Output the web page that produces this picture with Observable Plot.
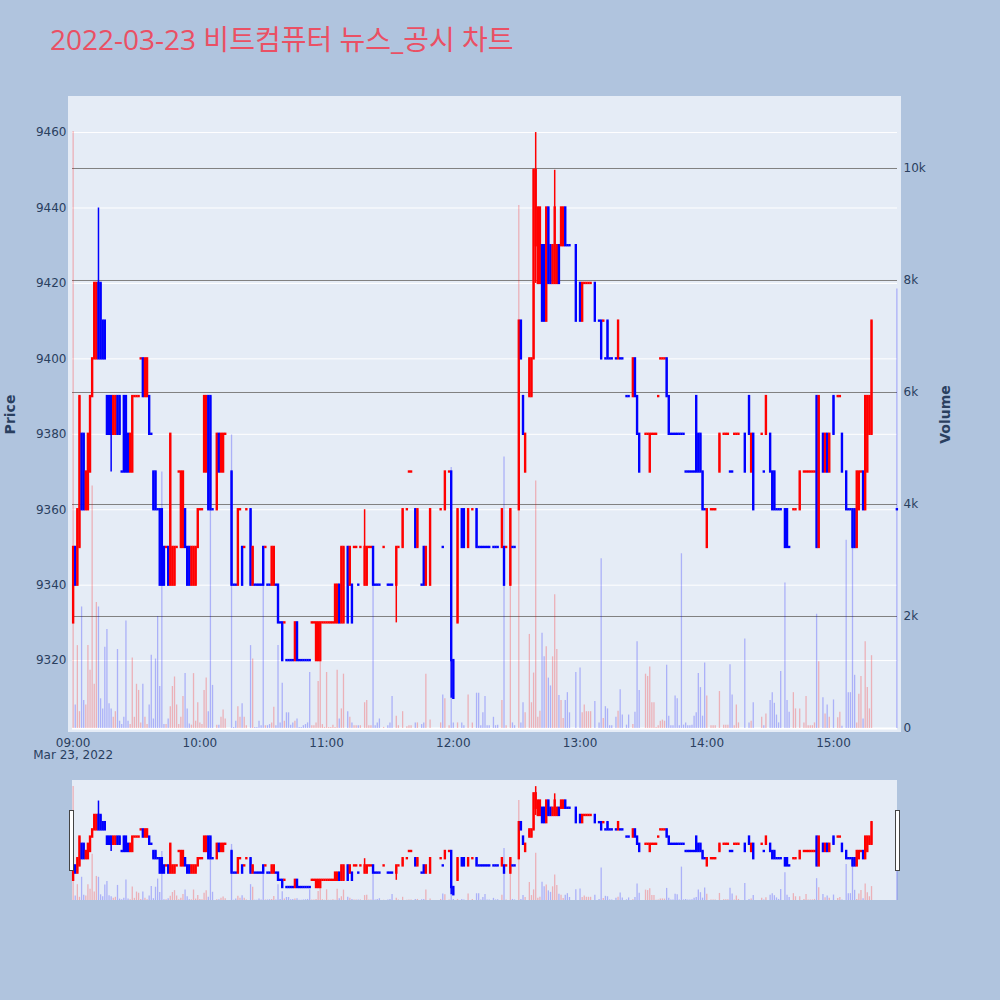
<!DOCTYPE html>
<html><head><meta charset="utf-8">
<script src="https://cdn.jsdelivr.net/npm/d3@7"></script>
<script src="https://cdn.jsdelivr.net/npm/@observablehq/plot@0.6"></script>
<style>
html,body{margin:0;padding:0;background:#B0C4DE;}
#wrap{position:relative;width:1000px;height:1000px;overflow:hidden;background:#B0C4DE;}
#wrap svg{position:absolute;left:0;top:0;pointer-events:none;}
.bg{position:absolute;background:#E5ECF6;}
.handle{position:absolute;background:#fff;border:1px solid #444;box-sizing:border-box;}
#title{position:absolute;left:50px;top:22px;font-family:"Open Sans","Noto Sans CJK KR",sans-serif;font-size:28px;line-height:34px;color:#EA5064;white-space:nowrap;}
</style></head>
<body><div id="wrap">
<div class="bg" style="left:68px;top:96px;width:833px;height:636px"></div>
<div class="bg" style="left:72px;top:780px;width:825px;height:120px"></div>
<div id="title">2022-03-23 비트컴퓨터 뉴스_공시 차트</div>
</div>
<script>
// ---- data: minute offset from 09:00, OHLC (KRW), volume (shares) ----
const minute = [
0,1,2,3,4,5,6,7,8,9,
10,11,12,13,14,15,16,17,18,19,
20,21,22,23,24,25,26,27,28,29,
30,31,32,33,34,35,36,37,38,39,
40,41,42,43,44,45,46,47,48,49,
50,51,52,53,54,55,56,57,58,59,
60,61,62,63,64,65,66,68,69,70,71,72,
75,76,77,78,79,80,81,82,84,85,86,87,88,89,
90,91,92,93,94,95,96,97,98,99,
100,101,102,103,104,105,106,107,108,109,
110,111,112,113,114,115,116,117,118,119,
120,121,122,123,124,125,126,127,128,130,131,132,133,134,135,136,138,139,
140,141,142,143,144,145,147,149,150,151,153,154,156,158,159,160,162,163,165,166,167,169,
174,175,176,178,179,180,182,184,185,187,189,191,192,193,194,195,196,197,199,200,201,203,204,205,207,208,209,
211,212,213,214,216,217,218,219,220,221,222,223,224,225,226,227,228,229,230,231,232,233,234,235,238,
240,241,242,243,244,245,247,249,250,251,252,253,254,255,257,258,259,260,262,263,265,266,267,268,
271,272,273,274,275,276,277,278,279,280,281,282,283,284,285,286,287,288,289,
290,291,292,293,294,295,296,297,298,299,300,302,303,304,306,308,309,310,311,312,313,314,315,318,
320,321,322,326,327,328,330,331,332,333,334,335,337,338,339,341,342,344,346,347,348,349,350,351,352,353,355,356,357,358,
360,362,363,364,366,367,368,369,370,371,372,373,374,375,376,377,378,390];

const open = [
9330,9350,9340,9350,9380,9380,9360,9360,9370,9390,
9400,9400,9420,9420,9410,9410,9390,9390,9390,9380,
9380,9390,9390,9370,9390,9390,9380,9370,9370,9390,
9390,9390,9400,9400,9390,9390,9390,9380,9370,9370,
9360,9360,9360,9350,9350,9350,9340,9340,9340,9350,
9370,9350,9350,9360,9350,9350,9340,9340,9340,9350,
9360,9360,9370,9370,9390,9390,9360,9360,9380,9370,9370,9380,
9370,9340,9340,9340,9360,9350,9350,9360,9360,9340,9340,9340,9340,9340,
9350,9350,9340,9340,9340,9340,9340,9340,9330,9330,
9330,9320,9320,9320,9320,9320,9330,9320,9320,9320,
9320,9320,9320,9330,9330,9320,9320,9320,9330,9330,
9330,9330,9330,9330,9330,9330,9340,9330,9330,9350,9340,9340,9350,9350,9340,9350,9340,9340,
9350,9350,9350,9340,9340,9340,9350,9340,9340,9340,9340,9350,9350,9360,9370,9370,9360,9350,9340,9350,9340,9340,
9360,9350,9360,9370,9370,9320,9330,9360,9360,9350,9360,9360,9350,9350,9350,9350,9350,9350,9350,9350,9350,9350,9350,9350,9340,9350,9350,
9360,9410,9390,9370,9390,9390,9400,9430,9420,9420,9430,9430,9410,9440,9430,9420,9420,9420,9430,9430,9430,9440,9430,9430,9430,
9420,9410,9420,9420,9420,9420,9420,9410,9410,9410,9400,9410,9400,9400,9400,9400,9400,9400,9390,9390,9390,9400,9390,9380,
9380,9380,9370,9380,9380,9380,9390,9400,9400,9400,9400,9390,9380,9380,9380,9380,9380,9380,9380,
9370,9370,9370,9370,9370,9390,9380,9380,9370,9360,9350,9360,9360,9360,9370,9380,9380,9380,9370,9370,9380,9380,9380,9380,
9390,9370,9380,9380,9370,9380,9380,9370,9370,9360,9360,9360,9360,9360,9350,9360,9360,9360,9370,9370,9370,9370,9370,9370,9390,9350,9380,9370,9380,9370,
9390,9390,9390,9380,9370,9360,9360,9360,9360,9350,9360,9370,9370,9360,9370,9380,9380,9360];

const high = [
9350,9350,9360,9390,9380,9380,9370,9380,9390,9400,
9420,9420,9440,9420,9410,9410,9390,9390,9390,9390,
9390,9390,9390,9370,9390,9390,9380,9380,9390,9390,
9390,9390,9400,9400,9400,9400,9390,9380,9370,9370,
9360,9360,9360,9350,9350,9350,9380,9350,9350,9350,
9370,9370,9370,9360,9350,9350,9350,9350,9350,9360,
9360,9360,9390,9390,9390,9390,9360,9380,9380,9380,9380,9380,
9370,9340,9340,9360,9360,9350,9350,9360,9360,9350,9340,9340,9340,9340,
9350,9350,9340,9340,9350,9350,9340,9340,9330,9330,
9330,9320,9320,9320,9320,9330,9330,9320,9320,9320,
9320,9320,9320,9330,9330,9330,9330,9330,9330,9330,
9330,9330,9330,9330,9340,9340,9340,9350,9350,9350,9350,9340,9350,9350,9340,9350,9360,9350,
9350,9350,9350,9340,9340,9340,9350,9340,9340,9340,9350,9350,9360,9360,9370,9370,9360,9360,9340,9350,9350,9360,
9360,9350,9370,9370,9370,9320,9360,9360,9360,9360,9360,9360,9350,9350,9350,9350,9350,9350,9350,9350,9350,9360,9350,9350,9360,9350,9350,
9410,9410,9390,9380,9400,9400,9450,9460,9440,9440,9430,9430,9440,9440,9430,9430,9450,9430,9430,9440,9440,9440,9430,9430,9430,
9420,9420,9420,9420,9420,9420,9420,9410,9410,9410,9400,9410,9400,9400,9400,9410,9400,9400,9390,9390,9400,9400,9390,9380,
9380,9380,9380,9380,9380,9380,9390,9400,9400,9400,9400,9390,9380,9380,9380,9380,9380,9380,9380,
9370,9370,9370,9370,9370,9390,9380,9380,9370,9360,9360,9360,9360,9360,9380,9380,9380,9380,9370,9370,9380,9380,9380,9380,
9390,9380,9380,9380,9370,9390,9380,9370,9370,9360,9360,9360,9360,9360,9350,9360,9360,9370,9370,9370,9370,9370,9370,9370,9390,9390,9380,9380,9380,9380,
9390,9390,9390,9380,9370,9360,9360,9360,9360,9370,9370,9370,9370,9390,9390,9390,9410,9360];

const low = [
9330,9340,9340,9350,9360,9360,9360,9360,9370,9390,
9400,9400,9400,9400,9400,9400,9380,9380,9370,9380,
9380,9380,9380,9370,9370,9370,9370,9370,9370,9390,
9390,9390,9400,9390,9390,9390,9380,9380,9360,9360,
9360,9340,9340,9340,9350,9340,9340,9340,9340,9350,
9370,9350,9350,9350,9340,9340,9340,9340,9340,9350,
9360,9360,9370,9370,9360,9360,9360,9360,9370,9370,9370,9380,
9340,9340,9340,9340,9360,9340,9350,9360,9340,9340,9340,9340,9340,9340,
9340,9350,9340,9340,9340,9340,9340,9330,9330,9320,
9330,9320,9320,9320,9320,9320,9320,9320,9320,9320,
9320,9320,9320,9330,9330,9320,9320,9320,9330,9330,
9330,9330,9330,9330,9330,9330,9330,9330,9330,9330,9340,9330,9350,9350,9340,9350,9340,9340,
9350,9350,9340,9340,9340,9340,9350,9340,9340,9340,9330,9350,9350,9360,9370,9370,9350,9350,9340,9340,9340,9340,
9360,9350,9360,9370,9310,9310,9330,9350,9350,9350,9360,9350,9350,9350,9350,9350,9350,9350,9350,9350,9350,9350,9340,9350,9340,9350,9350,
9360,9400,9380,9370,9390,9390,9400,9420,9420,9420,9410,9410,9410,9420,9420,9420,9420,9420,9420,9430,9430,9430,9430,9430,9410,
9410,9410,9420,9420,9420,9420,9410,9410,9400,9410,9400,9400,9400,9400,9400,9400,9400,9400,9390,9390,9390,9390,9380,9370,
9380,9380,9370,9380,9380,9380,9390,9400,9400,9400,9390,9380,9380,9380,9380,9380,9380,9380,9380,
9370,9370,9370,9370,9370,9370,9370,9370,9360,9360,9350,9360,9360,9360,9370,9380,9380,9380,9370,9370,9380,9380,9380,9370,
9380,9370,9360,9380,9370,9380,9370,9360,9360,9360,9360,9360,9350,9350,9350,9360,9360,9360,9370,9370,9370,9370,9370,9370,9350,9350,9370,9370,9370,9370,
9380,9390,9390,9370,9360,9360,9360,9350,9350,9350,9360,9370,9360,9360,9370,9380,9380,9360];

const close = [
9350,9340,9360,9390,9360,9360,9370,9380,9390,9400,
9420,9420,9400,9400,9400,9400,9380,9380,9380,9390,
9390,9380,9380,9370,9370,9370,9370,9380,9390,9390,
9390,9390,9400,9390,9400,9400,9380,9380,9360,9360,
9360,9340,9340,9340,9350,9340,9380,9350,9350,9350,
9370,9370,9370,9350,9340,9340,9350,9350,9350,9360,
9360,9360,9390,9390,9360,9360,9360,9380,9370,9380,9380,9380,
9340,9340,9340,9360,9360,9340,9350,9360,9340,9350,9340,9340,9340,9340,
9340,9350,9340,9340,9350,9350,9340,9330,9330,9320,
9330,9320,9320,9320,9320,9330,9320,9320,9320,9320,
9320,9320,9320,9330,9330,9330,9330,9330,9330,9330,
9330,9330,9330,9330,9340,9340,9330,9350,9350,9330,9350,9330,9350,9350,9340,9350,9350,9350,
9350,9350,9340,9340,9340,9340,9350,9340,9340,9340,9350,9350,9360,9360,9370,9370,9350,9360,9340,9340,9350,9360,
9360,9350,9370,9370,9320,9310,9360,9350,9350,9360,9360,9350,9350,9350,9350,9350,9350,9350,9350,9350,9350,9360,9340,9350,9360,9350,9350,
9410,9400,9380,9380,9400,9400,9450,9450,9440,9440,9410,9410,9440,9420,9420,9430,9440,9430,9420,9440,9440,9430,9430,9430,9410,
9410,9420,9420,9420,9420,9420,9410,9410,9400,9410,9400,9400,9400,9400,9400,9410,9400,9400,9390,9390,9400,9390,9380,9370,
9380,9380,9380,9380,9380,9380,9390,9400,9400,9400,9390,9380,9380,9380,9380,9380,9380,9380,9380,
9370,9370,9370,9370,9370,9370,9370,9370,9360,9360,9360,9360,9360,9360,9380,9380,9380,9380,9370,9370,9380,9380,9380,9370,
9380,9380,9360,9380,9370,9390,9370,9360,9360,9360,9360,9360,9350,9350,9350,9360,9360,9370,9370,9370,9370,9370,9370,9370,9350,9390,9370,9380,9370,9380,
9380,9390,9390,9370,9360,9360,9360,9350,9350,9370,9370,9370,9360,9390,9390,9390,9410,9360];

const volume = [
10660,420,1480,300,2170,500,420,1480,1040,4330,
790,2250,2170,530,350,1450,1770,440,350,200,
300,1410,130,70,200,1920,130,70,1260,200,
790,680,100,790,200,70,420,1310,170,1240,
2000,750,4580,70,70,170,390,750,920,420,
70,200,570,980,350,80,60,980,130,460,
100,70,680,900,300,5900,770,60,60,200,330,170,
5240,20,130,390,200,440,200,50,1480,1240,20,20,130,50,
2600,50,50,70,100,380,50,1480,100,810,
130,280,280,60,100,130,170,20,20,50,
70,100,1000,50,50,100,840,1700,70,20,
1000,20,20,60,20,1040,170,350,970,300,200,100,50,50,50,50,460,500,
50,50,2580,50,100,170,20,50,100,570,220,50,300,30,50,50,100,100,70,100,970,150,
100,600,530,50,4660,100,100,100,50,600,100,630,630,50,280,570,50,50,200,50,60,500,4850,50,3900,100,50,
9340,100,460,280,1680,460,990,4420,200,310,1700,1280,1460,900,760,1280,2390,1410,590,500,180,500,640,280,1000,
1080,280,420,300,300,300,480,100,3030,180,390,350,50,50,200,310,690,240,60,240,70,290,1550,680,
970,930,1100,460,460,20,50,130,150,130,1130,220,50,50,580,530,50,3120,60,
100,50,50,60,220,280,980,730,220,1170,580,50,50,50,660,60,60,60,1140,600,50,420,100,1600,
100,130,460,200,50,260,500,640,450,240,100,1020,2600,500,290,640,350,350,100,570,50,50,50,100,2040,1190,550,260,420,200,
510,190,290,40,3360,640,640,3270,950,100,610,930,170,1550,730,350,1300,7850];

const priceTicks = [9320, 9340, 9360, 9380, 9400, 9420, 9440, 9460];
const volumeTicks = [0, 2000, 4000, 6000, 8000, 10000];
const volumeTickLabels = ["0", "2k", "4k", "6k", "8k", "10k"];
const hourTicks = [9, 10, 11, 12, 13, 14, 15];
const dateLabel = "Mar 23, 2022";

// ---- build table ----
const T0 = Date.UTC(2022, 2, 23, 9, 0);
const toDate = m => new Date(T0 + m * 60000);
const rows = minute.map((m, i) => ({t: toDate(m), o: open[i], h: high[i], l: low[i], c: close[i], v: volume[i]}));
// direction as Plotly computes it (flat candles compare to previous close)
let inc = true, prevC = null;
for (const d of rows) {
  if (d.c === d.o) { if (prevC !== null && d.c !== prevC) inc = d.c > prevC; }
  else inc = d.c > d.o;
  prevC = d.c; d.inc = inc;
}
const UP = "#ff0000", DOWN = "#0000ff";
const col = d => d.inc ? UP : DOWN;

const xDomain = [toDate(-0.3), toDate(390.3)];
const priceDomain = [9302, 9468.5];
const volDomain = [0, 11214];
const hourDates = hourTicks.map(h => toDate((h - 9) * 60));

const MAIN = {marginTop: 100, marginRight: 103, marginBottom: 272, marginLeft: 72};
const SLIDER = {marginTop: 780, marginRight: 103, marginBottom: 100, marginLeft: 72};

const wrap = document.getElementById("wrap");
function layer(m, yDomain, marks) {
  const svg = Plot.plot({
    width: 1000, height: 1000, ...m,
    x: {type: "utc", domain: xDomain, axis: null},
    y: {domain: yDomain, axis: null},
    color: {type: "identity"},
    style: {background: "transparent", fontFamily: "DejaVu Sans, sans-serif", fontSize: "12px", color: "#2a3f5f", overflow: "visible"},
    marks
  });
  wrap.appendChild(svg);
  return svg;
}

// main: price grid + axes
layer(MAIN, priceDomain, [
  Plot.ruleY(priceTicks, {stroke: "white", strokeWidth: 1}),
  Plot.axisY({ticks: priceTicks, tickSize: 0, tickPadding: 6, tickFormat: d => String(d), label: null, fill: "#2a3f5f"}),
  Plot.axisX({ticks: hourDates, tickSize: 0, tickPadding: 10, tickFormat: d3.utcFormat("%H:%M"), label: null, fill: "#2a3f5f"}),
  Plot.text([hourDates[0]], {x: d => d, text: () => dateLabel, frameAnchor: "bottom", dy: 30.5, fill: "#2a3f5f"}),
  Plot.text(["Price"], {text: d => d, frameAnchor: "left", textAnchor: "middle", dx: -62, rotate: -90, fontWeight: "bold", fontSize: 14, fill: "#2a3f5f"})
]);

// main: volume (secondary axis)
layer(MAIN, volDomain, [
  Plot.ruleY(volumeTicks.slice(1), {stroke: "gray", strokeWidth: 1}),
  Plot.ruleY([0], {stroke: "white", strokeWidth: 2}),
  Plot.ruleX(rows, {x: "t", y1: 0, y2: "v", stroke: col, strokeOpacity: 0.25, strokeWidth: 1.3}),
  Plot.axisY({anchor: "right", ticks: volumeTicks, tickFormat: d => volumeTickLabels[volumeTicks.indexOf(d)], tickSize: 0, tickPadding: 6, label: null, fill: "#2a3f5f"}),
  Plot.text(["Volume"], {text: d => d, frameAnchor: "right", textAnchor: "middle", dx: 48, rotate: -90, fontWeight: "bold", fontSize: 14, fill: "#2a3f5f"})
]);

// main: candles
layer(MAIN, priceDomain, [
  Plot.ruleX(rows, {x: "t", y1: "l", y2: "h", stroke: col, strokeWidth: 1.5}),
  Plot.ruleX(rows, {x: "t", y1: "o", y2: "c", stroke: col, strokeWidth: 2.4, strokeLinecap: "square"})
]);

// range slider: volume + candles
layer(SLIDER, volDomain, [
  Plot.ruleX(rows, {x: "t", y1: 0, y2: "v", stroke: col, strokeOpacity: 0.25, strokeWidth: 1.3})
]);
layer(SLIDER, priceDomain, [
  Plot.ruleX(rows, {x: "t", y1: "l", y2: "h", stroke: col, strokeWidth: 1.5}),
  Plot.ruleX(rows, {x: "t", y1: "o", y2: "c", stroke: col, strokeWidth: 2.4, strokeLinecap: "square"})
]);

// slider handles
for (const left of [69, 895]) {
  const h = document.createElement("div");
  h.className = "handle";
  h.style.cssText = `left:${left}px;top:810px;width:5px;height:61px;`;
  wrap.appendChild(h);
}
</script>
</body></html>
